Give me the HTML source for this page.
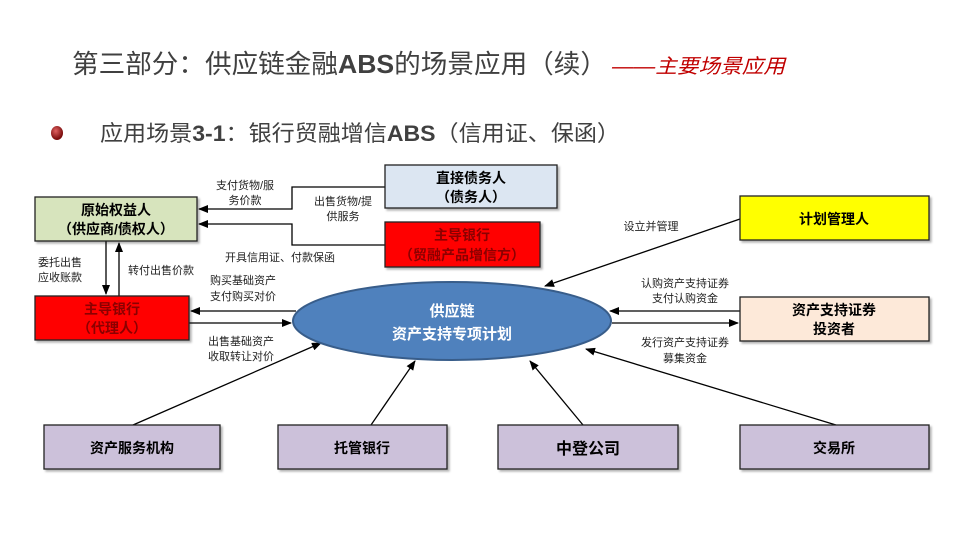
<!DOCTYPE html>
<html><head><meta charset="utf-8"><style>
body{margin:0;background:#fff;}
svg text{font-family:"Liberation Sans","Noto Sans CJK SC",sans-serif;}
</style></head><body>
<svg width="960" height="540" viewBox="0 0 960 540" xmlns="http://www.w3.org/2000/svg">
<defs>
<marker id="a" markerWidth="10" markerHeight="8" refX="9" refY="4" orient="auto" markerUnits="userSpaceOnUse"><path d="M0,0 L10,4 L0,8 z" fill="#000"/></marker>
<radialGradient id="b" cx="40%" cy="35%" r="60%"><stop offset="0" stop-color="#e06060"/><stop offset="1" stop-color="#7a0d0d"/></radialGradient>
<filter id="s" x="-5%" y="-5%" width="115%" height="120%"><feDropShadow dx="2" dy="2" stdDeviation="1" flood-color="#000" flood-opacity="0.3"/></filter>
</defs>
<text x="72" y="73" font-size="26" fill="#404040" textLength="535" lengthAdjust="spacingAndGlyphs">第三部分：供应链金融<tspan font-weight="bold">ABS</tspan>的场景应用（续）</text>
<text x="612" y="73" font-size="20" fill="#c00000" font-style="italic" textLength="173" lengthAdjust="spacingAndGlyphs">——主要场景应用</text>
<ellipse cx="57" cy="133" rx="6" ry="7" fill="url(#b)"/>
<text x="100" y="141" font-size="22" fill="#404040" textLength="520" lengthAdjust="spacingAndGlyphs">应用场景<tspan font-weight="bold">3-1</tspan>：银行贸融增信<tspan font-weight="bold">ABS</tspan>（信用证、保函）</text>

<g stroke="#000" stroke-width="1.3" fill="none">
<polyline points="385,187 292,187 292,209 199,209" marker-end="url(#a)"/>
<polyline points="385,245 292,245 292,224 199,224" marker-end="url(#a)"/>
<line x1="106" y1="241" x2="106" y2="294" marker-end="url(#a)"/>
<line x1="119" y1="296" x2="119" y2="243" marker-end="url(#a)"/>
<line x1="296" y1="311" x2="191" y2="311" marker-end="url(#a)"/>
<line x1="189" y1="323" x2="291" y2="323" marker-end="url(#a)"/>
<line x1="740" y1="219" x2="545" y2="286" marker-end="url(#a)"/>
<line x1="740" y1="311" x2="610" y2="311" marker-end="url(#a)"/>
<line x1="612" y1="323" x2="738" y2="323" marker-end="url(#a)"/>
<line x1="133" y1="425" x2="321" y2="343" marker-end="url(#a)"/>
<line x1="371" y1="425" x2="415" y2="361" marker-end="url(#a)"/>
<line x1="583" y1="425" x2="530" y2="361" marker-end="url(#a)"/>
<line x1="836" y1="425" x2="586" y2="349" marker-end="url(#a)"/>
</g>

<g stroke="#222" stroke-width="1.3" filter="url(#s)">
<rect x="35" y="197" width="162" height="44" fill="#d7e4bd"/>
<rect x="385" y="165" width="172" height="43" fill="#dce6f2"/>
<rect x="385" y="222" width="155" height="45" fill="#ff0000"/>
<rect x="35" y="296" width="154" height="44" fill="#ff0000"/>
<rect x="740" y="196" width="189" height="44" fill="#ffff00"/>
<rect x="740" y="297" width="189" height="44" fill="#fde9d9"/>
<rect x="44" y="425" width="176" height="44" fill="#ccc1da"/>
<rect x="278" y="425" width="169" height="44" fill="#ccc1da"/>
<rect x="498" y="425" width="180" height="44" fill="#ccc1da"/>
<rect x="740" y="425" width="189" height="44" fill="#ccc1da"/>
</g>
<ellipse cx="452" cy="321" rx="159" ry="39" fill="#4f81bd" stroke="#385d8a" stroke-width="2"/>

<g font-size="14" font-weight="bold" text-anchor="middle" fill="#000">
<text x="116" y="215">原始权益人</text><text x="116" y="234">（供应商/债权人）</text>
<text x="471" y="183">直接债务人</text><text x="471" y="202">（债务人）</text>
<text x="462" y="240" fill="#8b0000">主导银行</text><text x="462" y="260" fill="#8b0000">（贸融产品增信方）</text>
<text x="112" y="314" fill="#8b0000">主导银行</text><text x="112" y="333" fill="#8b0000">（代理人）</text>
<text x="834" y="224">计划管理人</text>
<text x="834" y="315">资产支持证券</text><text x="834" y="334">投资者</text>
<text x="132" y="453">资产服务机构</text>
<text x="362" y="453">托管银行</text>
<text x="588" y="454" font-size="16">中登公司</text>
<text x="834" y="453">交易所</text>
<text x="452" y="316" fill="#fff" font-size="15">供应链</text>
<text x="452" y="339" fill="#fff" font-size="15">资产支持专项计划</text>
</g>

<g font-size="11" fill="#222" text-anchor="middle">
<text x="245" y="189">支付货物/服</text><text x="245" y="204">务价款</text>
<text x="343" y="205">出售货物/提</text><text x="343" y="220">供服务</text>
<text x="280" y="261">开具信用证、付款保函</text>
<text x="60" y="266">委托出售</text><text x="60" y="281">应收账款</text>
<text x="161" y="274">转付出售价款</text>
<text x="243" y="284">购买基础资产</text><text x="243" y="300">支付购买对价</text>
<text x="241" y="345">出售基础资产</text><text x="241" y="360">收取转让对价</text>
<text x="651" y="230">设立并管理</text>
<text x="685" y="287">认购资产支持证券</text><text x="685" y="302">支付认购资金</text>
<text x="685" y="346">发行资产支持证券</text><text x="685" y="362">募集资金</text>
</g>
</svg>
</body></html>
